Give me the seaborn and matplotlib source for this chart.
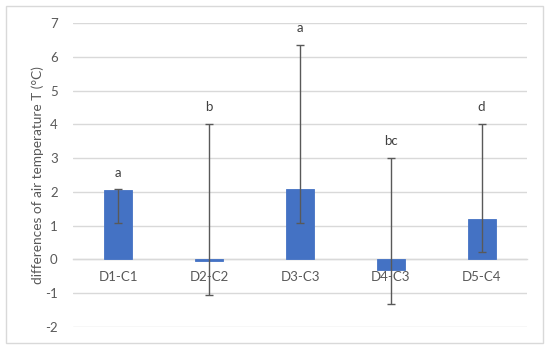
import matplotlib
matplotlib.use("Agg")
import matplotlib.pyplot as plt
import seaborn as sns
import pandas as pd
from matplotlib.patches import Rectangle

categories = ["D1-C1", "D2-C2", "D3-C3", "D4-C3", "D5-C4"]
values = [2.07, -0.05, 2.08, -0.31, 1.21]
err_low = [1.08, -1.06, 1.09, -1.33, 0.22]
err_high = [2.08, 4.01, 6.36, 3.0, 4.01]
letters = ["a", "b", "a", "bc", "d"]
yticks = [-2, -1, 0, 1, 2, 3, 4, 5, 6, 7]

sns.set_theme(style="white")
plt.rcParams["font.family"] = ["Lato", "DejaVu Sans"]

df = pd.DataFrame({"cat": categories, "val": values})

fig = plt.figure(figsize=(5.5, 3.49), dpi=100)
ax = fig.add_axes([73/550, 1-327/349, (527-73)/550, (327-23)/349])

sns.barplot(data=df, x="cat", y="val", color="#4472C4", saturation=1,
            width=0.31, ax=ax, errorbar=None, zorder=3,
            linewidth=0.6, edgecolor="#4472C4")

xs = list(range(len(categories)))
lower = [v - l for v, l in zip(values, err_low)]
upper = [h - v for v, h in zip(values, err_high)]
ax.errorbar(xs, values, yerr=[lower, upper], fmt="none", ecolor="#595959",
            elinewidth=1.0, capsize=2.6, capthick=1.0, zorder=4)

for x, h, t in zip(xs, err_high, letters):
    ax.annotate(t, (x, h), xytext=(0, 12), textcoords="offset points",
                ha="center", va="center", fontsize=9.5, color="#404040")

ax.set_ylim(-2, 7)
ax.set_xlim(-0.5, len(categories) - 0.5)
ax.set_yticks(yticks)
ax.set_yticklabels([str(t) for t in yticks])
ax.grid(axis="y", color="#d9d9d9", linewidth=1.0, zorder=0)
ax.set_axisbelow(True)

for s in ["top", "right", "left"]:
    ax.spines[s].set_visible(False)
ax.spines["bottom"].set_position(("data", 0))
ax.spines["bottom"].set_color("#d9d9d9")
ax.spines["bottom"].set_linewidth(1.0)
ax.spines["bottom"].set_zorder(1)

ax.tick_params(axis="both", length=0, labelsize=9.5, colors="#595959")
ax.tick_params(axis="x", pad=8)
ax.tick_params(axis="y", pad=11)
ax.set_xlabel("")
ax.set_ylabel("differences of air temperature T (°C)", fontsize=9.8,
              color="#595959", labelpad=1)

fig.patches.append(Rectangle((6/550, 6/349), (543-6)/550, (343-6)/349,
                             transform=fig.transFigure, fill=False,
                             edgecolor="#d9d9d9", linewidth=1.0))

fig.savefig("out.png", dpi=100)
